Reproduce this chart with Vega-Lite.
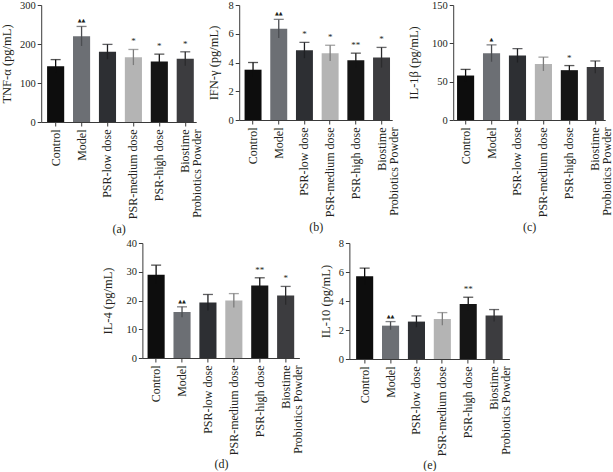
{
  "$schema": "https://vega.github.io/schema/vega-lite/v6.json",
  "padding": {"left": 0, "top": 0, "right": 0, "bottom": 0},
  "background": "white",
  "datasets": {
    "a": [
      {"group": "Control", "mean": 143, "hi": 160, "lo": 126, "star": "", "tri": ""},
      {"group": "Model", "mean": 220, "hi": 245, "lo": 195, "star": "", "tri": "▲▲"},
      {"group": "PSR-low dose", "mean": 180, "hi": 199, "lo": 161, "star": "", "tri": ""},
      {"group": "PSR-medium dose", "mean": 166, "hi": 186, "lo": 146, "star": "*", "tri": ""},
      {"group": "PSR-high dose", "mean": 155, "hi": 174, "lo": 136, "star": "*", "tri": ""},
      {"group": "Biostime Probiotics Powder", "mean": 162, "hi": 180, "lo": 144, "star": "*", "tri": ""}
    ],
    "b": [
      {"group": "Control", "mean": 3.5, "hi": 4.0, "lo": 3.0, "star": "", "tri": ""},
      {"group": "Model", "mean": 6.35, "hi": 7.0, "lo": 5.7, "star": "", "tri": "▲▲"},
      {"group": "PSR-low dose", "mean": 4.85, "hi": 5.4, "lo": 4.3, "star": "*", "tri": ""},
      {"group": "PSR-medium dose", "mean": 4.65, "hi": 5.2, "lo": 4.1, "star": "*", "tri": ""},
      {"group": "PSR-high dose", "mean": 4.15, "hi": 4.65, "lo": 3.65, "star": "**", "tri": ""},
      {"group": "Biostime Probiotics Powder", "mean": 4.35, "hi": 5.05, "lo": 3.65, "star": "*", "tri": ""}
    ],
    "c": [
      {"group": "Control", "mean": 58, "hi": 66, "lo": 50, "star": "", "tri": ""},
      {"group": "Model", "mean": 87, "hi": 98, "lo": 76, "star": "", "tri": "▲"},
      {"group": "PSR-low dose", "mean": 84, "hi": 93, "lo": 75, "star": "", "tri": ""},
      {"group": "PSR-medium dose", "mean": 73, "hi": 82, "lo": 64, "star": "", "tri": ""},
      {"group": "PSR-high dose", "mean": 65, "hi": 71, "lo": 59, "star": "*", "tri": ""},
      {"group": "Biostime Probiotics Powder", "mean": 69, "hi": 77, "lo": 61, "star": "", "tri": ""}
    ],
    "d": [
      {"group": "Control", "mean": 29, "hi": 32.3, "lo": 25.7, "star": "", "tri": ""},
      {"group": "Model", "mean": 16, "hi": 17.8, "lo": 14.2, "star": "", "tri": "▲▲"},
      {"group": "PSR-low dose", "mean": 19.3, "hi": 22.1, "lo": 16.5, "star": "", "tri": ""},
      {"group": "PSR-medium dose", "mean": 20, "hi": 22.4, "lo": 17.6, "star": "", "tri": ""},
      {"group": "PSR-high dose", "mean": 25.2, "hi": 27.9, "lo": 22.5, "star": "**", "tri": ""},
      {"group": "Biostime Probiotics Powder", "mean": 21.7, "hi": 24.9, "lo": 18.5, "star": "*", "tri": ""}
    ],
    "e": [
      {"group": "Control", "mean": 5.7, "hi": 6.27, "lo": 5.13, "star": "", "tri": ""},
      {"group": "Model", "mean": 2.3, "hi": 2.58, "lo": 2.02, "star": "", "tri": "▲▲"},
      {"group": "PSR-low dose", "mean": 2.58, "hi": 2.97, "lo": 2.19, "star": "", "tri": ""},
      {"group": "PSR-medium dose", "mean": 2.76, "hi": 3.2, "lo": 2.32, "star": "", "tri": ""},
      {"group": "PSR-high dose", "mean": 3.8, "hi": 4.26, "lo": 3.34, "star": "**", "tri": ""},
      {"group": "Biostime Probiotics Powder", "mean": 3.0, "hi": 3.41, "lo": 2.59, "star": "", "tri": ""}
    ]
  },
  "vconcat": [
    {
      "spacing": 4,
      "hconcat": [
        {
          "width": 155, "height": 117,
          "data": {"name": "a"},
          "resolve": {"scale": {"color": "independent"}},
          "encoding": {"x": {"field": "group", "type": "nominal", "sort": null,
            "scale": {"paddingInner": 0.34, "paddingOuter": 0.16, "align": 0.71},
            "axis": {"title": "(a)", "titlePadding": 5, "labelAngle": -90, "labelLineHeight": 12,
              "labelExpr": "datum.value == 'Biostime Probiotics Powder' ? ['Biostime', 'Probiotics Powder'] : datum.value"}}},
          "layer": [
            {"mark": {"type": "bar"}, "encoding": {
              "y": {"field": "mean", "type": "quantitative", "title": "TNF-α (pg/mL)", "scale": {"domain": [0, 300], "nice": false}, "axis": {"values": [0, 100, 200, 300], "titlePadding": 6, "labelOverlap": false}},
              "color": {"field": "group", "type": "nominal", "legend": null, "scale": {"domain": ["Control", "Model", "PSR-low dose", "PSR-medium dose", "PSR-high dose", "Biostime Probiotics Powder"], "range": ["#0d0d0d", "#6c6f74", "#2d2f33", "#b4b4b4", "#151515", "#3c3c3f"]}}}},
            {"mark": {"type": "rule", "strokeWidth": 1.3}, "encoding": {
              "y": {"field": "lo", "type": "quantitative", "title": "TNF-α (pg/mL)", "axis": {"values": [0, 100, 200, 300], "titlePadding": 6, "labelOverlap": false}}, "y2": {"field": "hi"},
              "color": {"field": "group", "type": "nominal", "legend": null, "scale": {"domain": ["Control", "Model", "PSR-low dose", "PSR-medium dose", "PSR-high dose", "Biostime Probiotics Powder"], "range": ["#0d0d0d", "#4b4d51", "#1f2023", "#7c7c7c", "#151515", "#2b2b2d"]}}}},
            {"mark": {"type": "tick", "orient": "horizontal", "thickness": 1.3, "size": 10}, "encoding": {
              "y": {"field": "hi", "type": "quantitative", "title": "TNF-α (pg/mL)", "axis": {"values": [0, 100, 200, 300], "titlePadding": 6, "labelOverlap": false}},
              "color": {"field": "group", "type": "nominal", "legend": null, "scale": {"domain": ["Control", "Model", "PSR-low dose", "PSR-medium dose", "PSR-high dose", "Biostime Probiotics Powder"], "range": ["#0d0d0d", "#4b4d51", "#1f2023", "#7c7c7c", "#151515", "#2b2b2d"]}}}},
            {"mark": {"type": "text", "font": "Liberation Serif", "fontSize": 9, "dy": -5, "baseline": "alphabetic", "color": "#231f20"}, "encoding": {
              "y": {"field": "hi", "type": "quantitative", "title": "TNF-α (pg/mL)", "axis": {"values": [0, 100, 200, 300], "titlePadding": 6, "labelOverlap": false}}, "text": {"field": "star"}}},
            {"mark": {"type": "text", "font": "DejaVu Sans", "fontSize": 5, "dy": -4, "baseline": "alphabetic", "color": "#231f20"}, "encoding": {
              "y": {"field": "hi", "type": "quantitative", "title": "TNF-α (pg/mL)", "axis": {"values": [0, 100, 200, 300], "titlePadding": 6, "labelOverlap": false}}, "text": {"field": "tri"}}}
          ]
        },
        {
          "spacing": 8,
          "hconcat": [
            {
              "width": 153, "height": 115,
              "data": {"name": "b"},
              "resolve": {"scale": {"color": "independent"}},
              "encoding": {"x": {"field": "group", "type": "nominal", "sort": null,
                "scale": {"paddingInner": 0.34, "paddingOuter": 0.147, "align": 0.71},
                "axis": {"title": "(b)", "titlePadding": 5, "labelAngle": -90, "labelLineHeight": 12,
                  "labelExpr": "datum.value == 'Biostime Probiotics Powder' ? ['Biostime', 'Probiotics Powder'] : datum.value"}}},
              "layer": [
                {"mark": {"type": "bar"}, "encoding": {
                  "y": {"field": "mean", "type": "quantitative", "title": "IFN-γ (pg/mL)", "scale": {"domain": [0, 8], "nice": false}, "axis": {"values": [0, 2, 4, 6, 8], "titlePadding": 7, "labelOverlap": false}},
                  "color": {"field": "group", "type": "nominal", "legend": null, "scale": {"domain": ["Control", "Model", "PSR-low dose", "PSR-medium dose", "PSR-high dose", "Biostime Probiotics Powder"], "range": ["#0d0d0d", "#6c6f74", "#2d2f33", "#b4b4b4", "#151515", "#3c3c3f"]}}}},
                {"mark": {"type": "rule", "strokeWidth": 1.3}, "encoding": {
                  "y": {"field": "lo", "type": "quantitative", "title": "IFN-γ (pg/mL)", "axis": {"values": [0, 2, 4, 6, 8], "titlePadding": 7, "labelOverlap": false}}, "y2": {"field": "hi"},
                  "color": {"field": "group", "type": "nominal", "legend": null, "scale": {"domain": ["Control", "Model", "PSR-low dose", "PSR-medium dose", "PSR-high dose", "Biostime Probiotics Powder"], "range": ["#0d0d0d", "#4b4d51", "#1f2023", "#7c7c7c", "#151515", "#2b2b2d"]}}}},
                {"mark": {"type": "tick", "orient": "horizontal", "thickness": 1.3, "size": 10}, "encoding": {
                  "y": {"field": "hi", "type": "quantitative", "title": "IFN-γ (pg/mL)", "axis": {"values": [0, 2, 4, 6, 8], "titlePadding": 7, "labelOverlap": false}},
                  "color": {"field": "group", "type": "nominal", "legend": null, "scale": {"domain": ["Control", "Model", "PSR-low dose", "PSR-medium dose", "PSR-high dose", "Biostime Probiotics Powder"], "range": ["#0d0d0d", "#4b4d51", "#1f2023", "#7c7c7c", "#151515", "#2b2b2d"]}}}},
                {"mark": {"type": "text", "font": "Liberation Serif", "fontSize": 9, "dy": -5, "baseline": "alphabetic", "color": "#231f20"}, "encoding": {
                  "y": {"field": "hi", "type": "quantitative", "title": "IFN-γ (pg/mL)", "axis": {"values": [0, 2, 4, 6, 8], "titlePadding": 7, "labelOverlap": false}}, "text": {"field": "star"}}},
                {"mark": {"type": "text", "font": "DejaVu Sans", "fontSize": 5, "dy": -4, "baseline": "alphabetic", "color": "#231f20"}, "encoding": {
                  "y": {"field": "hi", "type": "quantitative", "title": "IFN-γ (pg/mL)", "axis": {"values": [0, 2, 4, 6, 8], "titlePadding": 7, "labelOverlap": false}}, "text": {"field": "tri"}}}
              ]
            },
            {
              "width": 152, "height": 115,
              "data": {"name": "c"},
              "resolve": {"scale": {"color": "independent"}},
              "encoding": {"x": {"field": "group", "type": "nominal", "sort": null,
                "scale": {"paddingInner": 0.34, "paddingOuter": 0.1, "align": 0.74},
                "axis": {"title": "(c)", "titlePadding": 5, "labelAngle": -90, "labelLineHeight": 12,
                  "labelExpr": "datum.value == 'Biostime Probiotics Powder' ? ['Biostime', 'Probiotics Powder'] : datum.value"}}},
              "layer": [
                {"mark": {"type": "bar"}, "encoding": {
                  "y": {"field": "mean", "type": "quantitative", "title": "IL-1β (pg/mL)", "scale": {"domain": [0, 150], "nice": false}, "axis": {"values": [0, 50, 100, 150], "titlePadding": 11, "labelOverlap": false}},
                  "color": {"field": "group", "type": "nominal", "legend": null, "scale": {"domain": ["Control", "Model", "PSR-low dose", "PSR-medium dose", "PSR-high dose", "Biostime Probiotics Powder"], "range": ["#0d0d0d", "#6c6f74", "#2d2f33", "#b4b4b4", "#151515", "#3c3c3f"]}}}},
                {"mark": {"type": "rule", "strokeWidth": 1.3}, "encoding": {
                  "y": {"field": "lo", "type": "quantitative", "title": "IL-1β (pg/mL)", "axis": {"values": [0, 50, 100, 150], "titlePadding": 11, "labelOverlap": false}}, "y2": {"field": "hi"},
                  "color": {"field": "group", "type": "nominal", "legend": null, "scale": {"domain": ["Control", "Model", "PSR-low dose", "PSR-medium dose", "PSR-high dose", "Biostime Probiotics Powder"], "range": ["#0d0d0d", "#4b4d51", "#1f2023", "#7c7c7c", "#151515", "#2b2b2d"]}}}},
                {"mark": {"type": "tick", "orient": "horizontal", "thickness": 1.3, "size": 10}, "encoding": {
                  "y": {"field": "hi", "type": "quantitative", "title": "IL-1β (pg/mL)", "axis": {"values": [0, 50, 100, 150], "titlePadding": 11, "labelOverlap": false}},
                  "color": {"field": "group", "type": "nominal", "legend": null, "scale": {"domain": ["Control", "Model", "PSR-low dose", "PSR-medium dose", "PSR-high dose", "Biostime Probiotics Powder"], "range": ["#0d0d0d", "#4b4d51", "#1f2023", "#7c7c7c", "#151515", "#2b2b2d"]}}}},
                {"mark": {"type": "text", "font": "Liberation Serif", "fontSize": 9, "dy": -5, "baseline": "alphabetic", "color": "#231f20"}, "encoding": {
                  "y": {"field": "hi", "type": "quantitative", "title": "IL-1β (pg/mL)", "axis": {"values": [0, 50, 100, 150], "titlePadding": 11, "labelOverlap": false}}, "text": {"field": "star"}}},
                {"mark": {"type": "text", "font": "DejaVu Sans", "fontSize": 5, "dy": -4, "baseline": "alphabetic", "color": "#231f20"}, "encoding": {
                  "y": {"field": "hi", "type": "quantitative", "title": "IL-1β (pg/mL)", "axis": {"values": [0, 50, 100, 150], "titlePadding": 11, "labelOverlap": false}}, "text": {"field": "tri"}}}
              ]
            }
          ]
        }
      ]
    },
    {
      "spacing": 16,
      "hconcat": [
        {
          "width": 157, "height": 115,
          "data": {"name": "d"},
          "resolve": {"scale": {"color": "independent"}},
          "encoding": {"x": {"field": "group", "type": "nominal", "sort": null,
            "scale": {"paddingInner": 0.34, "paddingOuter": 0.2, "align": 0.5},
            "axis": {"title": "(d)", "titlePadding": 4, "labelAngle": -90, "labelLineHeight": 12,
              "labelExpr": "datum.value == 'Biostime Probiotics Powder' ? ['Biostime', 'Probiotics Powder'] : datum.value"}}},
          "layer": [
            {"mark": {"type": "bar"}, "encoding": {
              "y": {"field": "mean", "type": "quantitative", "title": "IL-4 (pg/mL)", "scale": {"domain": [0, 40], "nice": false}, "axis": {"values": [0, 10, 20, 30, 40], "titlePadding": 11, "labelOverlap": false}},
              "color": {"field": "group", "type": "nominal", "legend": null, "scale": {"domain": ["Control", "Model", "PSR-low dose", "PSR-medium dose", "PSR-high dose", "Biostime Probiotics Powder"], "range": ["#0d0d0d", "#6c6f74", "#2d2f33", "#b4b4b4", "#151515", "#3c3c3f"]}}}},
            {"mark": {"type": "rule", "strokeWidth": 1.3}, "encoding": {
              "y": {"field": "lo", "type": "quantitative", "title": "IL-4 (pg/mL)", "axis": {"values": [0, 10, 20, 30, 40], "titlePadding": 11, "labelOverlap": false}}, "y2": {"field": "hi"},
              "color": {"field": "group", "type": "nominal", "legend": null, "scale": {"domain": ["Control", "Model", "PSR-low dose", "PSR-medium dose", "PSR-high dose", "Biostime Probiotics Powder"], "range": ["#0d0d0d", "#4b4d51", "#1f2023", "#7c7c7c", "#151515", "#2b2b2d"]}}}},
            {"mark": {"type": "tick", "orient": "horizontal", "thickness": 1.3, "size": 10}, "encoding": {
              "y": {"field": "hi", "type": "quantitative", "title": "IL-4 (pg/mL)", "axis": {"values": [0, 10, 20, 30, 40], "titlePadding": 11, "labelOverlap": false}},
              "color": {"field": "group", "type": "nominal", "legend": null, "scale": {"domain": ["Control", "Model", "PSR-low dose", "PSR-medium dose", "PSR-high dose", "Biostime Probiotics Powder"], "range": ["#0d0d0d", "#4b4d51", "#1f2023", "#7c7c7c", "#151515", "#2b2b2d"]}}}},
            {"mark": {"type": "text", "font": "Liberation Serif", "fontSize": 9, "dy": -5, "baseline": "alphabetic", "color": "#231f20"}, "encoding": {
              "y": {"field": "hi", "type": "quantitative", "title": "IL-4 (pg/mL)", "axis": {"values": [0, 10, 20, 30, 40], "titlePadding": 11, "labelOverlap": false}}, "text": {"field": "star"}}},
            {"mark": {"type": "text", "font": "DejaVu Sans", "fontSize": 5, "dy": -4, "baseline": "alphabetic", "color": "#231f20"}, "encoding": {
              "y": {"field": "hi", "type": "quantitative", "title": "IL-4 (pg/mL)", "axis": {"values": [0, 10, 20, 30, 40], "titlePadding": 11, "labelOverlap": false}}, "text": {"field": "tri"}}}
          ]
        },
        {
          "width": 160, "height": 116,
          "data": {"name": "e"},
          "resolve": {"scale": {"color": "independent"}},
          "encoding": {"x": {"field": "group", "type": "nominal", "sort": null,
            "scale": {"paddingInner": 0.34, "paddingOuter": 0.26, "align": 0.5},
            "axis": {"title": "(e)", "titlePadding": 4, "labelAngle": -90, "labelLineHeight": 12,
              "labelExpr": "datum.value == 'Biostime Probiotics Powder' ? ['Biostime', 'Probiotics Powder'] : datum.value"}}},
          "layer": [
            {"mark": {"type": "bar"}, "encoding": {
              "y": {"field": "mean", "type": "quantitative", "title": "IL-10 (pg/mL)", "scale": {"domain": [0, 8], "nice": false}, "axis": {"values": [0, 2, 4, 6, 8], "titlePadding": 5.5, "labelOverlap": false}},
              "color": {"field": "group", "type": "nominal", "legend": null, "scale": {"domain": ["Control", "Model", "PSR-low dose", "PSR-medium dose", "PSR-high dose", "Biostime Probiotics Powder"], "range": ["#0d0d0d", "#6c6f74", "#2d2f33", "#b4b4b4", "#151515", "#3c3c3f"]}}}},
            {"mark": {"type": "rule", "strokeWidth": 1.3}, "encoding": {
              "y": {"field": "lo", "type": "quantitative", "title": "IL-10 (pg/mL)", "axis": {"values": [0, 2, 4, 6, 8], "titlePadding": 5.5, "labelOverlap": false}}, "y2": {"field": "hi"},
              "color": {"field": "group", "type": "nominal", "legend": null, "scale": {"domain": ["Control", "Model", "PSR-low dose", "PSR-medium dose", "PSR-high dose", "Biostime Probiotics Powder"], "range": ["#0d0d0d", "#4b4d51", "#1f2023", "#7c7c7c", "#151515", "#2b2b2d"]}}}},
            {"mark": {"type": "tick", "orient": "horizontal", "thickness": 1.3, "size": 10}, "encoding": {
              "y": {"field": "hi", "type": "quantitative", "title": "IL-10 (pg/mL)", "axis": {"values": [0, 2, 4, 6, 8], "titlePadding": 5.5, "labelOverlap": false}},
              "color": {"field": "group", "type": "nominal", "legend": null, "scale": {"domain": ["Control", "Model", "PSR-low dose", "PSR-medium dose", "PSR-high dose", "Biostime Probiotics Powder"], "range": ["#0d0d0d", "#4b4d51", "#1f2023", "#7c7c7c", "#151515", "#2b2b2d"]}}}},
            {"mark": {"type": "text", "font": "Liberation Serif", "fontSize": 9, "dy": -5, "baseline": "alphabetic", "color": "#231f20"}, "encoding": {
              "y": {"field": "hi", "type": "quantitative", "title": "IL-10 (pg/mL)", "axis": {"values": [0, 2, 4, 6, 8], "titlePadding": 5.5, "labelOverlap": false}}, "text": {"field": "star"}}},
            {"mark": {"type": "text", "font": "DejaVu Sans", "fontSize": 5, "dy": -4, "baseline": "alphabetic", "color": "#231f20"}, "encoding": {
              "y": {"field": "hi", "type": "quantitative", "title": "IL-10 (pg/mL)", "axis": {"values": [0, 2, 4, 6, 8], "titlePadding": 5.5, "labelOverlap": false}}, "text": {"field": "tri"}}}
          ]
        }
      ]
    }
  ],
  "spacing": 3,
  "center": true,
  "config": {
    "view": {"stroke": null},
    "font": "Liberation Serif",
    "axis": {"grid": false, "domainColor": "#3a3a3a", "tickColor": "#3a3a3a", "tickSize": 4, "domainWidth": 1, "labelPadding": 2,
      "labelFont": "Liberation Serif", "labelFontSize": 10.5, "labelColor": "#231f20",
      "titleFont": "Liberation Serif", "titleFontSize": 12.5, "titleFontWeight": "normal", "titleColor": "#231f20"},
    "axisX": {"labelFontSize": 12, "labelPadding": 3, "titleFontSize": 12},
    "axisY": {"labelFontSize": 10.5}
  }
}
